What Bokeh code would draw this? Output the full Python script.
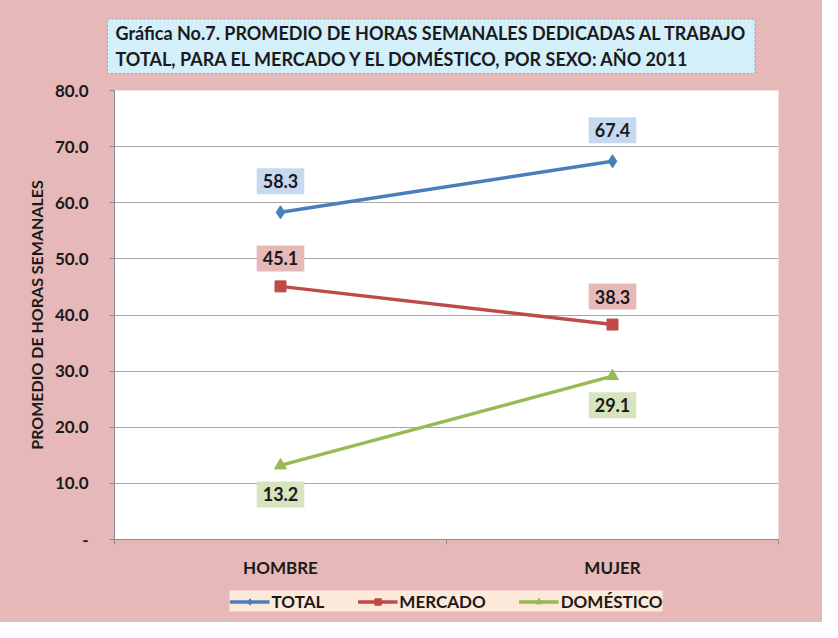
from bokeh.plotting import figure
from bokeh.layouts import column
from bokeh.models import Range1d, FixedTicker, Label, Legend, LegendItem, ColumnDataSource, Title
from bokeh.embed import file_html
from bokeh.resources import INLINE

# ---- data ----
categories = ["HOMBRE", "MUJER"]
total = [58.3, 67.4]
mercado = [45.1, 38.3]
domestico = [13.2, 29.1]
series_names = ["TOTAL", "MERCADO", "DOMÉSTICO"]
y_ticks = [0, 10, 20, 30, 40, 50, 60, 70, 80]
y_tick_labels = ["-", "10.0", "20.0", "30.0", "40.0", "50.0", "60.0", "70.0", "80.0"]
title_text = ("Gráfica No.7. PROMEDIO DE HORAS SEMANALES DEDICADAS AL TRABAJO\n"
              "TOTAL, PARA EL MERCADO Y EL DOMÉSTICO, POR SEXO: AÑO 2011")
y_label = "PROMEDIO DE HORAS SEMANALES"

FONT = "Lato"
BG = "#E6B9B8"

xpos = [i + 0.5 for i in range(len(categories))]

p = figure(width=822, height=580, output_backend="svg", toolbar_location=None,
           x_range=Range1d(0, len(categories)), y_range=Range1d(0, 80),
           min_border_left=114, min_border_right=44, min_border_top=89, min_border_bottom=38,
           styles={"background-color": BG})
p.background_fill_color = "white"
p.border_fill_color = BG
p.outline_line_color = None

# grid
p.xgrid.grid_line_color = None
p.ygrid.grid_line_color = "#A6A6A6"
p.ygrid.grid_line_width = 1.2

# y axis
p.yaxis.ticker = FixedTicker(ticks=y_ticks)
p.yaxis.major_label_overrides = {t: l for t, l in zip(y_ticks, y_tick_labels)}
p.yaxis.axis_line_color = "#8C8C8C"
p.yaxis.major_tick_line_color = "#8C8C8C"
p.yaxis.major_tick_out = 5
p.yaxis.major_tick_in = 0
p.yaxis.minor_tick_line_color = None
p.yaxis.major_label_standoff = 21
p.yaxis.major_label_text_font = FONT
p.yaxis.major_label_text_font_style = "bold"
p.yaxis.major_label_text_font_size = "17px"
p.yaxis.major_label_text_color = "#1A1A1A"
p.yaxis.axis_label = y_label
p.yaxis.axis_label_text_font = FONT
p.yaxis.axis_label_text_font_style = "bold"
p.yaxis.axis_label_text_font_size = "16px"
p.yaxis.axis_label_text_color = "#1A1A1A"
p.yaxis.axis_label_standoff = 6

# x axis
p.xaxis.ticker = FixedTicker(ticks=xpos, minor_ticks=list(range(len(categories) + 1)))
p.xaxis.major_label_overrides = {x: c for x, c in zip(xpos, categories)}
p.xaxis.axis_line_color = "#8C8C8C"
p.xaxis.major_tick_line_color = None
p.xaxis.major_tick_out = 0
p.xaxis.major_tick_in = 0
p.xaxis.minor_tick_line_color = "#8C8C8C"
p.xaxis.minor_tick_out = 5
p.xaxis.minor_tick_in = 0
p.xaxis.major_label_standoff = 12
p.xaxis.major_label_text_font = FONT
p.xaxis.major_label_text_font_style = "bold"
p.xaxis.major_label_text_font_size = "17px"
p.xaxis.major_label_text_color = "#1A1A1A"

# series
colors = ["#4A7EBB", "#BE4B48", "#98B954"]
label_bg = ["#C6D9F1", "#E6B9B8", "#D7E4BD"]
markers = ["diamond", "square", "triangle"]
msizes = [13, 11, 12]
offsets = [31, 28, -29]
values = [total, mercado, domestico]

for name, vals, col, mk, ms, lbg, off in zip(series_names, values, colors, markers, msizes, label_bg, offsets):
    src = ColumnDataSource(dict(x=xpos, y=vals))
    p.line("x", "y", source=src, line_color=col, line_width=3.5)
    p.scatter("x", "y", source=src, marker=mk, size=ms, fill_color=col, line_color=col)
    for xv, yv in zip(xpos, vals):
        p.add_layout(Label(x=xv, y=yv, y_offset=off, text=f"{yv:.1f}",
                           text_align="center", text_baseline="middle",
                           text_font=FONT, text_font_style="bold", text_font_size="18px",
                           text_color="#1A1A1A", background_fill_color=lbg,
                           padding=(6, 6)))

# title box
title = Title(text=title_text, align="left", offset=-7, standoff=34,
              text_font=FONT, text_font_style="bold", text_font_size="18px",
              text_color="#1A1A1A", text_line_height=1.2,
              background_fill_color="#D3EFFA", border_line_color="#8EA4B8",
              border_line_dash="2 2", border_line_width=1, padding=(8, 3))
p.add_layout(title, "above")

# legend strip (same series, in a figure of its own below the chart)
leg = figure(width=822, height=42, output_backend="svg", toolbar_location=None, title=None,
             x_range=Range1d(0, 1), y_range=Range1d(-2, -1),
             x_axis_location=None, y_axis_location=None, min_border=0,
             styles={"background-color": BG})
leg.background_fill_color = BG
leg.border_fill_color = BG
leg.outline_line_color = None
leg.grid.grid_line_color = None
leg.grid.visible = False
items = []
for name, vals, col, mk, ms in zip(series_names, values, colors, markers, msizes):
    src = ColumnDataSource(dict(x=xpos, y=vals))
    ln = leg.line("x", "y", source=src, line_color=col, line_width=3.5)
    sc = leg.scatter("x", "y", source=src, marker=mk, size=ms - 2, fill_color=col, line_color=col)
    items.append(LegendItem(label=name, renderers=[ln, sc]))
legend = Legend(items=items, orientation="horizontal", location="center",
                background_fill_color="#FDE9D9", background_fill_alpha=1.0,
                border_line_color=None, label_text_font=FONT, label_text_font_style="bold",
                label_text_font_size="17px", label_text_color="#1A1A1A",
                glyph_width=40, glyph_height=16, spacing=33, padding=6, margin=0,
                label_standoff=2)
leg.add_layout(legend, "center")

open("out.html", "w").write(file_html(column(p, leg, spacing=0, styles={"background-color": BG}), INLINE))
